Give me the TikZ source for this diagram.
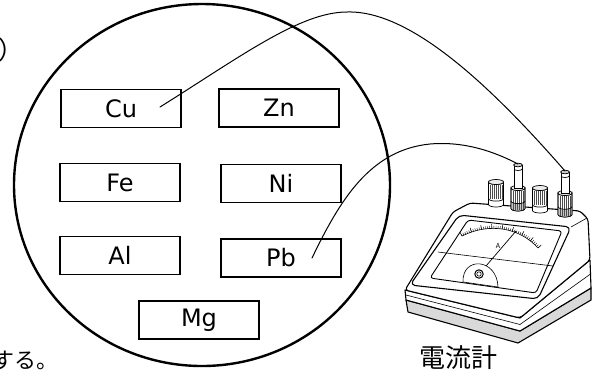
\documentclass[tikz,border=0pt]{standalone}
\usepackage{fontspec}
\setmainfont{Noto Sans CJK JP}
\newfontfamily\labelfont{DejaVu Sans}
\usetikzlibrary{decorations.markings}

% a plain ribbed terminal knob: centre x, top y, bottom y
\newcommand\plainknob[3]{%
  \begin{scope}[shift={(#1,#2)}]
    \pgfmathsetmacro\knobh{#3-#2}
    \pgfmathsetmacro\collary{0.7*\knobh}
    \filldraw[knobline,fill=white] (-7.5,3) -- (-7.5,\knobh-2.5)
      arc[start angle=180,end angle=0,x radius=7.5,y radius=2.5] -- (7.5,3)
      arc[start angle=0,end angle=180,x radius=7.5,y radius=2.5] -- cycle;
    \filldraw[knobline,fill=gray!15] (0,3) ellipse[x radius=7.5,y radius=2.5];
    \foreach \r in {-5.5,-3.5,-1.5,0.5,2.5,4.5,6} \draw[ribline] (\r,6) -- (\r,\collary);
    \draw[knobline] (-7.5,\collary) arc[start angle=180,end angle=0,x radius=7.5,y radius=2.5];
  \end{scope}}

% a terminal knob with a binding pin: centre x, pin top y, body top y, bottom y
\newcommand\pinknob[4]{%
  \begin{scope}[shift={(#1,#3)}]
    \pgfmathsetmacro\knobh{#4-#3}
    \pgfmathsetmacro\pinh{#3-#2}
    \pgfmathsetmacro\collary{0.62*\knobh}
    \filldraw[knobline,fill=white] (-7,3) -- (-7,\knobh-2.5)
      arc[start angle=180,end angle=0,x radius=7,y radius=2.5] -- (7,3)
      arc[start angle=0,end angle=180,x radius=7,y radius=2.5] -- cycle;
    \fill[gray!45] (-7,\collary) -- (-7,\knobh-2.5)
      arc[start angle=180,end angle=0,x radius=7,y radius=2.5] -- (7,\collary)
      arc[start angle=0,end angle=180,x radius=7,y radius=2.5] -- cycle;
    \foreach \r in {-5,-3,-1,1,3,5} \draw[ribline] (\r,6) -- (\r,\knobh-1);
    \draw[knobline] (-7,3) -- (-7,\knobh-2.5)
      arc[start angle=180,end angle=0,x radius=7,y radius=2.5] -- (7,3);
    \draw[knobline] (-7,\collary) arc[start angle=180,end angle=0,x radius=7,y radius=2.5];
    \filldraw[knobline,fill=gray!15] (0,3) ellipse[x radius=7,y radius=2.5];
    \filldraw[knobline,fill=white] (-4,-\pinh+2) rectangle (4,3);
    \draw[knobline] (-4,-\pinh+6) arc[start angle=180,end angle=0,x radius=4,y radius=1.5];
    \filldraw[knobline,fill=gray!40] (0,-\pinh+2) ellipse[x radius=4.5,y radius=1.8];
  \end{scope}}

\begin{document}
\begin{tikzpicture}[x=1pt,y=-1pt,
  metal/.style={draw,line width=1.3pt,minimum width=120pt,minimum height=38pt,
    inner sep=0pt,font=\labelfont\fontsize{24}{28}\selectfont},
  wire/.style={line width=1pt,line cap=round},
  knobline/.style={line width=0.7pt},
  ribline/.style={line width=0.45pt,gray!60!black},
  meterline/.style={line width=1.1pt,line join=round},
  thinline/.style={line width=0.6pt}]

\useasboundingbox[fill=white] (0,0) rectangle (602,376);

% the tray holding the metal plates
\draw[line width=2.4pt] (202,185) ellipse[x radius=188,y radius=181];

% metal plates
\node[metal] (cu) at (121,108.5) {Cu};
\node[metal] (zn) at (279,108)   {Zn};
\node[metal] (fe) at (120,182.5) {Fe};
\node[metal] (ni) at (281,183.5) {Ni};
\node[metal] (al) at (120,255.5) {Al};
\node[metal] (pb) at (281,258)   {Pb};
\node[metal] (mg) at (199,320)   {Mg};

% text
\node[anchor=west,inner sep=0pt,font=\fontsize{25}{30}\selectfont] (paren) at (-2,50) {）};
\node[anchor=west,inner sep=0pt,font=\fontsize{22}{26}\selectfont] (tail) at (-8,360) {する。};
\node[inner sep=0pt,font=\fontsize{26}{30}\selectfont] (meterlabel) at (458,358) {電流計};

% ---- galvanometer ----
% base slab
\filldraw[meterline,fill=gray!30] (406,300) -- (520,331) -- (591,288) -- (591,300)
  -- (518,343) -- (408,312) -- cycle;
% lower lip
\filldraw[meterline,fill=white] (405,290) -- (520,318) -- (590,260) -- (591,288)
  -- (520,331) -- (406,300) -- cycle;
\draw[thinline] (406,295) -- (520,324.5) -- (590.5,274);
% upper housing
\filldraw[meterline,fill=white,rounded corners=3] (405,290) -- (453,212) -- (470,203)
  -- (580,211) -- (588,219) -- (590,260) -- (520,318) -- cycle;
% front panel frame and top edge
\draw[meterline,rounded corners=5] (410,285) -- (459,215) -- (571,227) -- (538,299) -- cycle;
\draw[thinline] (571,227) -- (587,218);
% window
\draw[line width=0.9pt,rounded corners=3] (430,278) -- (468,220) -- (562,231) -- (536,293) -- cycle;
% scale
\draw[thinline,postaction={decorate},
  decoration={markings,
    mark=between positions 0 and 1 step 0.025 with {\draw[line width=0.4pt] (0,0) -- (0,2.5pt);},
    mark=between positions 0 and 1 step 0.125 with {\draw[line width=0.5pt] (0,0) -- (0,4.5pt);}}]
  (462,236) .. controls (490,222) and (520,228) .. (538,248);
\node[inner sep=0pt,font=\fontsize{7}{7}\selectfont] (unit) at (498,246) {A};
\draw[thinline] (438,252) -- (553,266);
% needle
\draw[line width=0.7pt] (480,273) -- (516,231);
% pivot cover
\filldraw[thinline,fill=white] (463,282) .. controls (462,256) and (497,258) .. (498,287) -- cycle;
\draw[line width=1pt] (479,274) circle[radius=4.2];
\draw[thinline] (479,274) circle[radius=2.2];

% terminals
\plainknob{496}{179}{207}
\pinknob{518}{163}{185}{211}
\plainknob{540}{185}{213}
\pinknob{565}{170}{190}{217}

% wire ends
\coordinate (cuEnd) at (160,107);
\coordinate (pbEnd) at (312,258);
\coordinate (pinA) at (518,164);
\coordinate (pinB) at (565,171);

% lead wires
\draw[wire] (cuEnd) .. controls (240,57) and (300,12) .. (347,12)
  .. controls (410,10) and (490,85) .. (pinB);
\draw[wire] (pbEnd) .. controls (340,200) and (370,150) .. (430,144)
  .. controls (465,141) and (495,152) .. (pinA);
\end{tikzpicture}
\end{document}
